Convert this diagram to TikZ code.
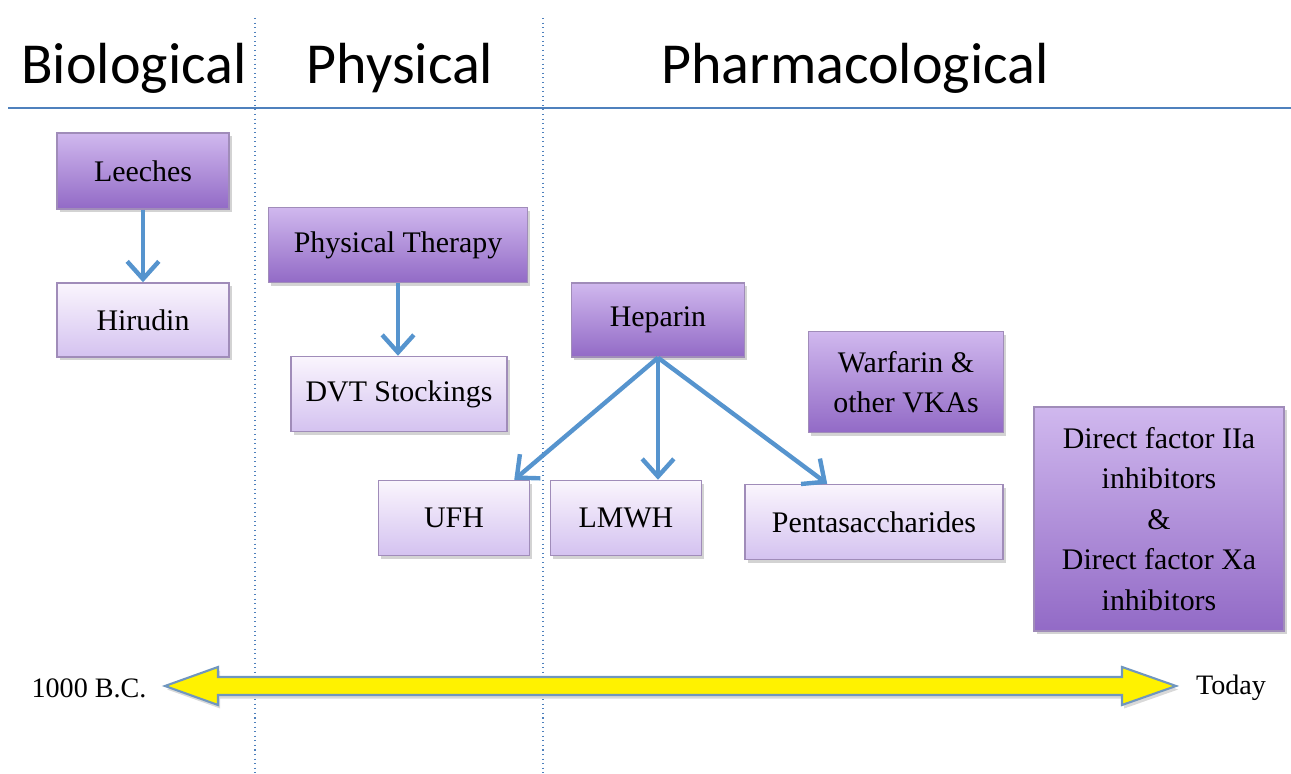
\documentclass[tikz,border=0pt]{standalone}
\usepackage{fontspec}
\setmainfont{Liberation Serif}
\newfontfamily\headfont{Carlito}
\usetikzlibrary{positioning}
\usetikzlibrary{arrows.meta}
\usetikzlibrary{calc}
\usetikzlibrary{shadows}

\definecolor{darktop}{RGB}{208,184,238}
\definecolor{darkbot}{RGB}{146,106,198}
\definecolor{lighttop}{RGB}{250,245,253}
\definecolor{lightbot}{RGB}{212,194,240}
\definecolor{boxedge}{RGB}{160,140,185}
\definecolor{linkblue}{RGB}{86,148,206}
\definecolor{sepblue}{RGB}{79,129,189}
\definecolor{tledge}{RGB}{112,150,190}

\tikzset{
  anybox/.style={draw=boxedge, line width=0.4pt, align=center, inner sep=0pt,
    font=\fontsize{8.5}{11.5}\selectfont,
    drop shadow={shadow xshift=0.8pt, shadow yshift=-0.9pt, opacity=0.35}},
  darkbox/.style={anybox, top color=darktop, bottom color=darkbot},
  lightbox/.style={anybox, top color=lighttop, bottom color=lightbot},
  link/.style={draw=linkblue, line width=1.25pt, -{Straight Barb[length=5pt,width=9pt]}},
  heading/.style={font=\headfont\fontsize{16.5}{20}\selectfont},
  datelabel/.style={font=\fontsize{8}{10}\selectfont}
}

\begin{document}
\begin{tikzpicture}[x=0.01cm,y=-0.01cm]
		\useasboundingbox (0,0) rectangle (1291,774);

		% Column headings and separators
		\node[heading] (bio) at (134,68) {Biological};
		\node[heading] (phys) at (400,68) {Physical};
		\node[heading] (pharm) at (855,68) {Pharmacological};
		\draw[sepblue, line width=0.5pt] (8,108) -- (1291,108);
		\foreach \x in {255,543}
			\draw[sepblue, line width=0.3pt, densely dotted] (\x,18) -- (\x,774);

		% Boxes
		\node[darkbox, minimum width=1.72cm, minimum height=0.76cm] (leeches) at (143,171) {Leeches};
		\node[lightbox, minimum width=1.72cm, minimum height=0.74cm] (hirudin) at (143,320) {Hirudin};
		\node[darkbox, minimum width=2.59cm, minimum height=0.75cm] (ptherapy) at (398,245) {Physical Therapy};
		\node[lightbox, minimum width=2.16cm, minimum height=0.75cm] (dvt) at (399,394) {DVT Stockings};
		\node[darkbox, minimum width=1.73cm, minimum height=0.74cm] (heparin) at (658,320) {Heparin};
		\node[lightbox, minimum width=1.51cm, minimum height=0.75cm] (ufh) at (454,518) {UFH};
		\node[lightbox, minimum width=1.51cm, minimum height=0.75cm] (lmwh) at (626,518) {LMWH};
		\node[lightbox, minimum width=2.58cm, minimum height=0.75cm] (penta) at (874,522) {Pentasaccharides};
		\node[darkbox, minimum width=1.95cm, minimum height=1.01cm] (warfarin) at (906,382) {Warfarin \&\\other VKAs};
		\node[darkbox, minimum width=2.50cm, minimum height=2.24cm] (direct) at (1159,519)
			{Direct factor IIa\\inhibitors\\\&\\Direct factor Xa\\inhibitors};

		% Arrows
		\draw[link] (leeches) -- (hirudin);
		\draw[link] (ptherapy.south) -- (ptherapy.south |- dvt.north);
		\draw[link] (heparin.south) -- ($(ufh.north east)+(-16,0)$);
		\draw[link] (heparin.south) -- (heparin.south |- lmwh.north);
		\draw[link] (heparin.south) -- ($(penta.north west)+(83,0)$);

		% Timeline
		\node[datelabel] (bc) at (89,688) {1000 B.C.};
		\node[datelabel] (today) at (1231,688) {Today};
		\draw[draw=tledge, line width=0.6pt, fill=yellow,
			drop shadow={shadow xshift=0.6pt, shadow yshift=-1pt, opacity=0.3}]
			(165,686) -- (218,667) -- (218,677) -- (1122,677) -- (1122,667) -- (1176,686)
			-- (1122,705) -- (1122,695) -- (218,695) -- (218,705) -- cycle;
	\end{tikzpicture}
\end{document}
